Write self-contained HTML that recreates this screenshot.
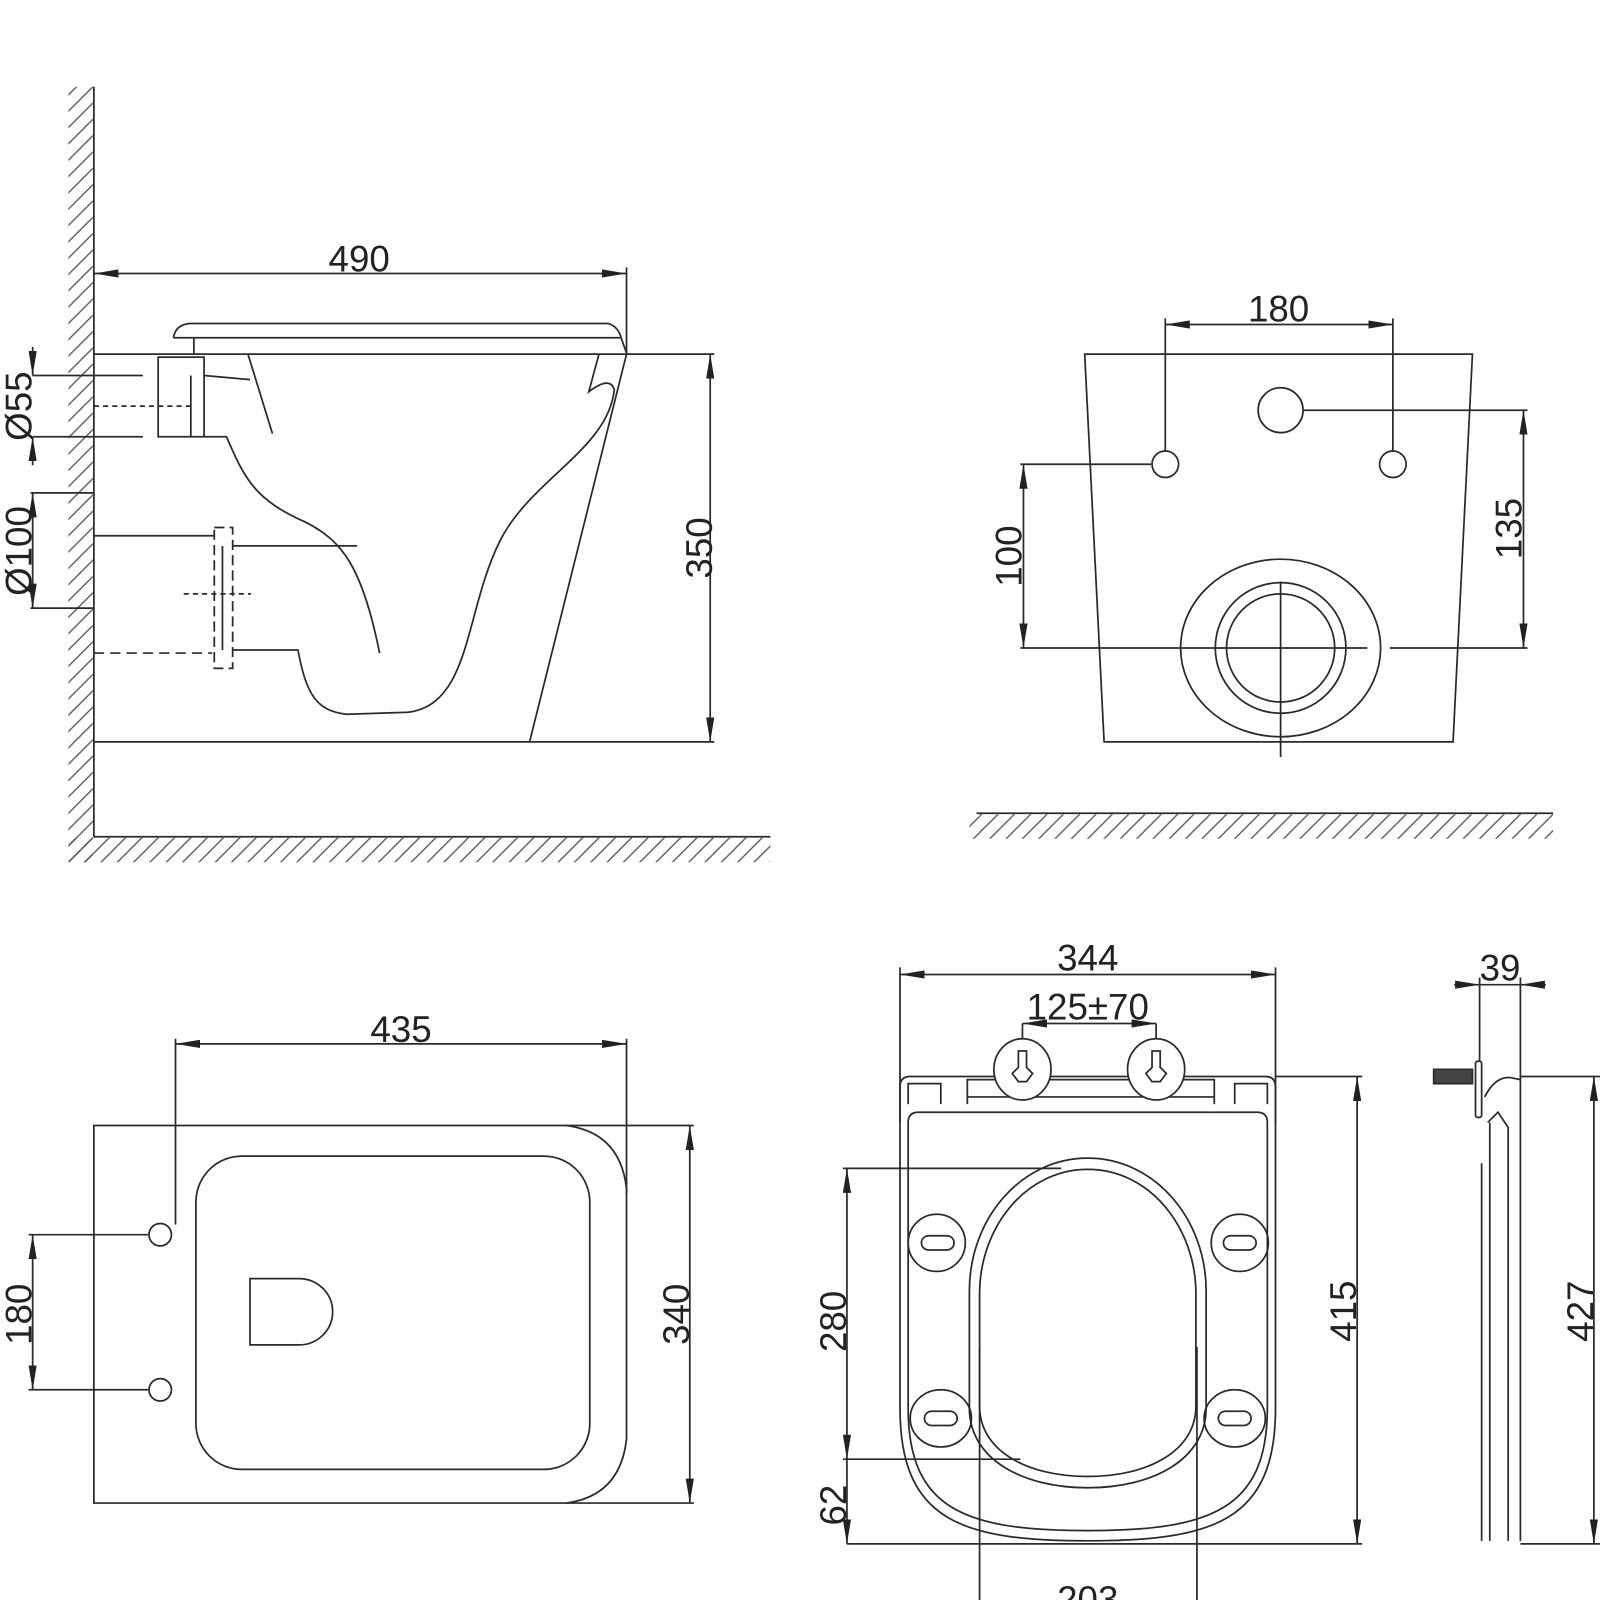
<!DOCTYPE html>
<html><head><meta charset="utf-8"><style>
html,body{margin:0;padding:0;background:#fff;}
svg{display:block;}
text{font-family:"Liberation Sans",sans-serif;font-size:36px;fill:#222;}
</style></head><body>
<svg width="1600" height="1600" viewBox="0 0 1568 1568" xmlns="http://www.w3.org/2000/svg">
<defs>
<marker id="a" viewBox="0 0 24 8" refX="24" refY="4" markerWidth="24" markerHeight="8" markerUnits="userSpaceOnUse" orient="auto-start-reverse"><path d="M0,0 L24,4 L0,8 Z" fill="#222"/></marker>
<pattern id="h" width="16" height="16" patternUnits="userSpaceOnUse"><path d="M-4,4 L4,-4 M0,16 L16,0 M12,20 L20,12" stroke="#555" stroke-width="1.3"/></pattern>
</defs>
<g fill="none" stroke="#2a2a2a" stroke-width="1.7">
<!-- Panel 1 side view -->
<rect x="67" y="85" width="24" height="760" fill="url(#h)" stroke="none"/>
<rect x="67" y="821" width="688" height="24" fill="url(#h)" stroke="none"/>
<line x1="92" y1="85" x2="92" y2="820"/>
<line x1="92" y1="820" x2="755" y2="820"/>
<line x1="92" y1="268" x2="614" y2="268" marker-start="url(#a)" marker-end="url(#a)"/>
<line x1="614" y1="262" x2="614" y2="347"/>
<path d="M170,331 Q172,318 186,317 L596,317 Q606,320 609,332 L614,346"/>
<line x1="170" y1="331" x2="608" y2="331"/>
<line x1="190" y1="331" x2="190" y2="347"/>
<line x1="92" y1="347" x2="700" y2="347"/>
<line x1="92" y1="727" x2="700" y2="727"/>
<line x1="696" y1="347" x2="696" y2="727" marker-start="url(#a)" marker-end="url(#a)"/>
<line x1="614" y1="347" x2="519" y2="727"/>
<line x1="243" y1="347" x2="267" y2="425"/>
<path d="M587,347 L577,384 Q598,368 602,382 C596,440 520,470 490,530 C455,600 462,690 400,698 L340,700 C310,697 300,680 292,637 L228,637"/>
<path d="M200,428 L222,428 C240,470 250,490 300,512 C335,530 355,555 372,640"/>
<line x1="228" y1="535" x2="350" y2="535"/>
<rect x="155" y="350" width="45" height="78"/>
<line x1="187" y1="368" x2="187" y2="428"/>
<line x1="200" y1="368" x2="245" y2="372"/>
<line x1="92" y1="398" x2="190" y2="398" stroke-dasharray="5,4"/>
<line x1="32" y1="368" x2="140" y2="368"/>
<line x1="32" y1="428" x2="140" y2="428"/>
<line x1="32" y1="340" x2="32" y2="368" marker-end="url(#a)"/>
<line x1="32" y1="456" x2="32" y2="428" marker-end="url(#a)"/>
<line x1="30" y1="483" x2="92" y2="483"/>
<line x1="30" y1="596" x2="92" y2="596"/>
<line x1="32" y1="483" x2="32" y2="596" marker-start="url(#a)" marker-end="url(#a)"/>
<line x1="92" y1="525" x2="210" y2="525"/>
<rect x="210" y="517" width="18" height="138" stroke-dasharray="10,5"/>
<line x1="218" y1="535" x2="218" y2="637"/>
<line x1="92" y1="640" x2="208" y2="640" stroke-dasharray="10,6"/>
<line x1="180" y1="582" x2="246" y2="582" stroke-dasharray="5,4"/>
<!-- Panel 2 front -->
<path d="M1063,347 L1443,347 L1424,727 L1082,727 Z"/>
<circle cx="1255" cy="402" r="22"/>
<circle cx="1142" cy="455" r="13"/>
<circle cx="1365" cy="455" r="13"/>
<ellipse cx="1255" cy="635" rx="98" ry="87"/>
<circle cx="1255" cy="635" r="64"/>
<circle cx="1255" cy="635" r="53"/>
<line x1="1000" y1="635" x2="1340" y2="635"/>
<line x1="1362" y1="635" x2="1497" y2="635"/>
<line x1="1255" y1="570" x2="1255" y2="742"/>
<line x1="1142" y1="312" x2="1142" y2="442"/>
<line x1="1365" y1="312" x2="1365" y2="442"/>
<line x1="1142" y1="318" x2="1365" y2="318" marker-start="url(#a)" marker-end="url(#a)"/>
<line x1="1000" y1="455" x2="1128" y2="455"/>
<line x1="1003" y1="455" x2="1003" y2="635" marker-start="url(#a)" marker-end="url(#a)"/>
<line x1="1277" y1="402" x2="1497" y2="402"/>
<line x1="1493" y1="402" x2="1493" y2="635" marker-start="url(#a)" marker-end="url(#a)"/>
<line x1="957" y1="797" x2="1522" y2="797"/>
<rect x="950" y="798" width="572" height="24" fill="url(#h)" stroke="none"/>
<!-- Panel 3 top -->
<path d="M92,1103 L555,1103 Q608,1110 614,1165 L614,1410 Q608,1466 555,1473 L92,1473 Z"/>
<rect x="192" y="1133" width="386" height="307" rx="45"/>
<path d="M245,1253 H293 A33,32.5 0 0 1 293,1318 H245 Z"/>
<circle cx="157" cy="1210" r="11"/>
<circle cx="157" cy="1362" r="11"/>
<line x1="172" y1="1018" x2="172" y2="1200"/>
<line x1="614" y1="1018" x2="614" y2="1170"/>
<line x1="172" y1="1023" x2="614" y2="1023" marker-start="url(#a)" marker-end="url(#a)"/>
<line x1="555" y1="1103" x2="680" y2="1103"/>
<line x1="555" y1="1473" x2="680" y2="1473"/>
<line x1="676" y1="1103" x2="676" y2="1473" marker-start="url(#a)" marker-end="url(#a)"/>
<line x1="28" y1="1210" x2="145" y2="1210"/>
<line x1="28" y1="1362" x2="145" y2="1362"/>
<line x1="32" y1="1210" x2="32" y2="1362" marker-start="url(#a)" marker-end="url(#a)"/>
<!-- Panel 4 seat -->
<line x1="882" y1="948" x2="882" y2="1100"/>
<line x1="1250" y1="948" x2="1250" y2="1100"/>
<line x1="882" y1="955" x2="1250" y2="955" marker-start="url(#a)" marker-end="url(#a)"/>
<line x1="1002" y1="1003" x2="1002" y2="1040"/>
<line x1="1133" y1="1003" x2="1133" y2="1040"/>
<line x1="1002" y1="1003" x2="1133" y2="1003" marker-start="url(#a)" marker-end="url(#a)"/>
<path d="M892,1055 H1240 Q1250,1055 1250,1065 V1380 C1250,1490 1190,1510 1066,1510 C942,1510 882,1490 882,1380 V1065 Q882,1055 892,1055 Z"/>
<path d="M900,1090 H1232 Q1242,1090 1242,1100 V1380 C1242,1480 1185,1500 1066,1500 C947,1500 890,1480 890,1380 V1100 Q890,1090 900,1090 Z"/>
<path d="M948,1082 V1058 H1190 V1082"/>
<line x1="948" y1="1075" x2="1190" y2="1075"/>
<path d="M890,1082 V1062 H922 V1082"/>
<path d="M1210,1082 V1062 H1242 V1082"/>
<ellipse cx="1002" cy="1048" rx="28" ry="30" fill="#fff"/>
<ellipse cx="1133" cy="1048" rx="28" ry="30" fill="#fff"/>
<path d="M998,1030 V1046 L992,1052 L998,1060 H1006 L1012,1052 L1006,1046 V1030 Z"/>
<path d="M1129,1030 V1046 L1123,1052 L1129,1060 H1137 L1143,1052 L1137,1046 V1030 Z"/>
<path d="M950,1265 C950,1195 1000,1135 1066,1135 C1132,1135 1182,1195 1182,1265 V1380 C1182,1430 1130,1458 1066,1458 C1002,1458 950,1430 950,1380 Z"/>
<path d="M960,1268 C960,1203 1005,1146 1066,1146 C1127,1146 1172,1203 1172,1268 V1378 C1172,1422 1125,1447 1066,1447 C1007,1447 960,1422 960,1378 Z"/>
<ellipse cx="918" cy="1218" rx="28" ry="28"/>
<ellipse cx="1215" cy="1218" rx="28" ry="28"/>
<ellipse cx="922" cy="1390" rx="30" ry="28"/>
<ellipse cx="1210" cy="1390" rx="30" ry="28"/>
<rect x="903" y="1211" width="32" height="14" rx="7"/>
<rect x="1199" y="1211" width="32" height="14" rx="7"/>
<rect x="906" y="1383" width="32" height="14" rx="7"/>
<rect x="1194" y="1383" width="32" height="14" rx="7"/>
<line x1="1250" y1="1055" x2="1335" y2="1055"/>
<line x1="830" y1="1513" x2="1335" y2="1513"/>
<line x1="1330" y1="1055" x2="1330" y2="1513" marker-start="url(#a)" marker-end="url(#a)"/>
<line x1="826" y1="1145" x2="1040" y2="1145"/>
<line x1="826" y1="1430" x2="1000" y2="1430"/>
<line x1="830" y1="1145" x2="830" y2="1430" marker-start="url(#a)" marker-end="url(#a)"/>
<line x1="830" y1="1430" x2="830" y2="1513" marker-end="url(#a)"/>
<line x1="960" y1="1320" x2="960" y2="1568"/>
<line x1="1173" y1="1320" x2="1173" y2="1568"/>
<!-- Panel 5 side seat -->
<line x1="1425" y1="965" x2="1450" y2="965" marker-end="url(#a)"/>
<line x1="1515" y1="965" x2="1490" y2="965" marker-end="url(#a)"/>
<line x1="1450" y1="965" x2="1490" y2="965"/>
<line x1="1450" y1="958" x2="1450" y2="1040"/>
<line x1="1490" y1="958" x2="1490" y2="1510"/>
<rect x="1446" y="1040" width="6" height="55" rx="2"/>
<rect x="1405" y="1048" width="38" height="14" fill="#444"/>
<path d="M1455,1075 Q1465,1055 1480,1056 L1490,1058"/>
<path d="M1458,1100 L1468,1090 L1478,1105 L1478,1510"/>
<line x1="1452" y1="1140" x2="1452" y2="1510"/>
<line x1="1460" y1="1100" x2="1460" y2="1510"/>
<line x1="1490" y1="1055" x2="1568" y2="1055"/>
<line x1="1490" y1="1513" x2="1568" y2="1513"/>
<line x1="1562" y1="1055" x2="1562" y2="1513" marker-start="url(#a)" marker-end="url(#a)"/>
</g>
<g>
<text x="352" y="266" text-anchor="middle">490</text>
<text transform="translate(698,537) rotate(-90)" text-anchor="middle">350</text>
<text transform="translate(31,398) rotate(-90)" text-anchor="middle">Ø55</text>
<text transform="translate(31,540) rotate(-90)" text-anchor="middle">Ø100</text>
<text x="1253" y="315" text-anchor="middle">180</text>
<text transform="translate(1001,545) rotate(-90)" text-anchor="middle">100</text>
<text transform="translate(1491,518) rotate(-90)" text-anchor="middle">135</text>
<text x="393" y="1021" text-anchor="middle">435</text>
<text transform="translate(675,1288) rotate(-90)" text-anchor="middle">340</text>
<text transform="translate(31,1288) rotate(-90)" text-anchor="middle">180</text>
<text x="1066" y="951" text-anchor="middle">344</text>
<text x="1066" y="999" text-anchor="middle">125±70</text>
<text transform="translate(1329,1285) rotate(-90)" text-anchor="middle">415</text>
<text transform="translate(829,1295) rotate(-90)" text-anchor="middle">280</text>
<text transform="translate(829,1475) rotate(-90)" text-anchor="middle">62</text>
<text x="1066" y="1580" text-anchor="middle">203</text>
<text x="1470" y="961" text-anchor="middle">39</text>
<text transform="translate(1561,1285) rotate(-90)" text-anchor="middle">427</text>
</g>
</svg>
</body></html>
